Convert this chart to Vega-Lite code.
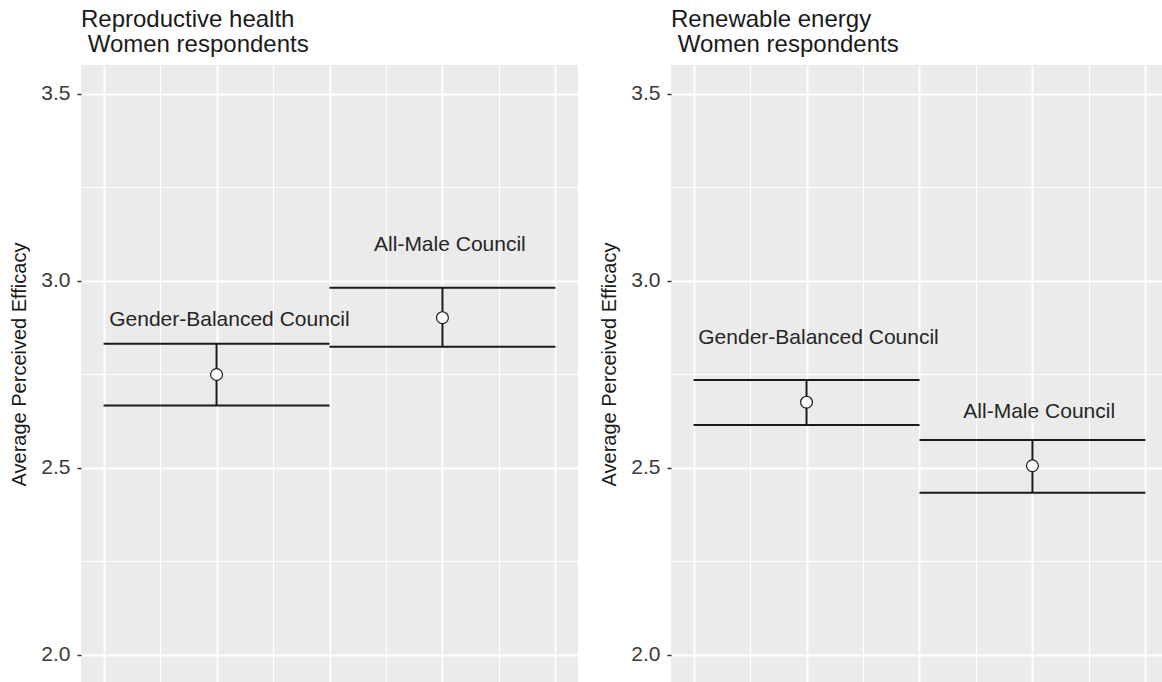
{
  "$schema": "https://vega.github.io/schema/vega-lite/v6.json",
  "padding": {"left": 9, "top": 8, "right": 0, "bottom": 0},
  "background": "white",
  "spacing": 21,
  "config": {
    "view": {"stroke": null, "fill": "#EBEBEB"},
    "font": "Liberation Sans",
    "title": {"anchor": "start", "frame": "group", "fontSize": 24, "fontWeight": "normal", "color": "#1a1a1a", "lineHeight": 25, "offset": 8},
    "axis": {"gridColor": "white", "domain": false}
  },
  "data": {
    "values": [
      {"topic": "Reproductive health", "group": "Gender-Balanced Council", "x": 1, "xmin": 0.5, "xmax": 1.5, "mean": 2.750, "lower": 2.667, "upper": 2.832, "lx": 1.057, "ly": 2.8805},
      {"topic": "Reproductive health", "group": "All-Male Council", "x": 2, "xmin": 1.5, "xmax": 2.5, "mean": 2.902, "lower": 2.824, "upper": 2.982, "lx": 2.033, "ly": 3.081},
      {"topic": "Renewable energy", "group": "Gender-Balanced Council", "x": 1, "xmin": 0.5, "xmax": 1.5, "mean": 2.676, "lower": 2.615, "upper": 2.735, "lx": 1.053, "ly": 2.831},
      {"topic": "Renewable energy", "group": "All-Male Council", "x": 2, "xmin": 1.5, "xmax": 2.5, "mean": 2.506, "lower": 2.434, "upper": 2.575, "lx": 2.03, "ly": 2.633}
    ]
  },
  "hconcat": [
    {
      "width": 497,
      "height": 617,
      "title": {"text": ["Reproductive health", "\u200b Women respondents"]},
      "transform": [{"filter": "datum.topic === 'Reproductive health'"}],
      "layer": [
        {
          "mark": {"type": "rule", "strokeWidth": 2, "color": "#1a1a1a"},
          "encoding": {
            "x": {"field": "xmin", "type": "quantitative", "scale": {"domain": [0.4, 2.6], "nice": false, "zero": false},
              "axis": {"values": [0.5, 0.75, 1, 1.25, 1.5, 1.75, 2, 2.25, 2.5], "labels": false, "ticks": false, "title": null,
                "gridWidth": {"condition": {"test": "datum.value % 0.5 === 0", "value": 1.8}, "value": 1.1}}},
            "x2": {"field": "xmax"},
            "y": {"field": "upper", "type": "quantitative", "scale": {"domain": [1.9278, 3.5775], "nice": false, "zero": false},
              "axis": {"values": [2, 2.25, 2.5, 2.75, 3, 3.25, 3.5], "title": "Average Perceived Efficacy",
                "labelExpr": "datum.value % 0.5 === 0 ? format(datum.value, '.1f') : ''",
                "labelFontSize": 21, "labelColor": "#3a3a3a", "labelPadding": 7, "tickSize": 4, "tickColor": "#333333", "tickWidth": 1.5,
                "tickOpacity": {"condition": {"test": "datum.value % 0.5 === 0", "value": 1}, "value": 0},
                "gridWidth": {"condition": {"test": "datum.value % 0.5 === 0", "value": 1.8}, "value": 1.1},
                "minExtent": 40, "maxExtent": 40, "titleFontSize": 20, "titleFontWeight": "normal", "titleColor": "#1a1a1a", "titlePadding": 12, "titleY": 299}}
          }
        },
        {
          "mark": {"type": "rule", "strokeWidth": 2, "color": "#1a1a1a"},
          "encoding": {
            "x": {"field": "xmin", "type": "quantitative"},
            "x2": {"field": "xmax"},
            "y": {"field": "lower", "type": "quantitative"}
          }
        },
        {
          "mark": {"type": "rule", "strokeWidth": 2, "color": "#1a1a1a"},
          "encoding": {
            "x": {"field": "x", "type": "quantitative"},
            "y": {"field": "lower", "type": "quantitative"},
            "y2": {"field": "upper"}
          }
        },
        {
          "mark": {"type": "point", "shape": "circle", "filled": true, "fill": "white", "stroke": "#1a1a1a", "strokeWidth": 1.2, "size": 140, "opacity": 1},
          "encoding": {
            "x": {"field": "x", "type": "quantitative"},
            "y": {"field": "mean", "type": "quantitative"}
          }
        },
        {
          "mark": {"type": "text", "fontSize": 21, "color": "#262626", "baseline": "alphabetic", "align": "center"},
          "encoding": {
            "x": {"field": "lx", "type": "quantitative"},
            "y": {"field": "ly", "type": "quantitative"},
            "text": {"field": "group"}
          }
        }
      ]
    },
    {
      "width": 491,
      "height": 617,
      "title": {"text": ["Renewable energy", "\u200b Women respondents"]},
      "transform": [{"filter": "datum.topic === 'Renewable energy'"}],
      "layer": [
        {
          "mark": {"type": "rule", "strokeWidth": 2, "color": "#1a1a1a"},
          "encoding": {
            "x": {"field": "xmin", "type": "quantitative", "scale": {"domain": [0.4, 2.5735], "nice": false, "zero": false},
              "axis": {"values": [0.5, 0.75, 1, 1.25, 1.5, 1.75, 2, 2.25, 2.5], "labels": false, "ticks": false, "title": null,
                "gridWidth": {"condition": {"test": "datum.value % 0.5 === 0", "value": 1.8}, "value": 1.1}}},
            "x2": {"field": "xmax"},
            "y": {"field": "upper", "type": "quantitative", "scale": {"domain": [1.9278, 3.5775], "nice": false, "zero": false},
              "axis": {"values": [2, 2.25, 2.5, 2.75, 3, 3.25, 3.5], "title": "Average Perceived Efficacy",
                "labelExpr": "datum.value % 0.5 === 0 ? format(datum.value, '.1f') : ''",
                "labelFontSize": 21, "labelColor": "#3a3a3a", "labelPadding": 7, "tickSize": 4, "tickColor": "#333333", "tickWidth": 1.5,
                "tickOpacity": {"condition": {"test": "datum.value % 0.5 === 0", "value": 1}, "value": 0},
                "gridWidth": {"condition": {"test": "datum.value % 0.5 === 0", "value": 1.8}, "value": 1.1},
                "minExtent": 40, "maxExtent": 40, "titleFontSize": 20, "titleFontWeight": "normal", "titleColor": "#1a1a1a", "titlePadding": 12, "titleY": 299}}
          }
        },
        {
          "mark": {"type": "rule", "strokeWidth": 2, "color": "#1a1a1a"},
          "encoding": {
            "x": {"field": "xmin", "type": "quantitative"},
            "x2": {"field": "xmax"},
            "y": {"field": "lower", "type": "quantitative"}
          }
        },
        {
          "mark": {"type": "rule", "strokeWidth": 2, "color": "#1a1a1a"},
          "encoding": {
            "x": {"field": "x", "type": "quantitative"},
            "y": {"field": "lower", "type": "quantitative"},
            "y2": {"field": "upper"}
          }
        },
        {
          "mark": {"type": "point", "shape": "circle", "filled": true, "fill": "white", "stroke": "#1a1a1a", "strokeWidth": 1.2, "size": 140, "opacity": 1},
          "encoding": {
            "x": {"field": "x", "type": "quantitative"},
            "y": {"field": "mean", "type": "quantitative"}
          }
        },
        {
          "mark": {"type": "text", "fontSize": 21, "color": "#262626", "baseline": "alphabetic", "align": "center"},
          "encoding": {
            "x": {"field": "lx", "type": "quantitative"},
            "y": {"field": "ly", "type": "quantitative"},
            "text": {"field": "group"}
          }
        }
      ]
    }
  ]
}
